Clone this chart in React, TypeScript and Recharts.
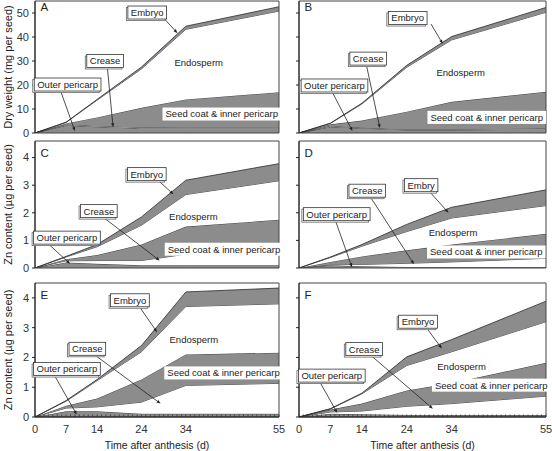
import React from 'react';
import { AreaChart, Area, XAxis, YAxis, ReferenceLine, ReferenceDot, ReferenceArea } from 'recharts';

// ---------- data ----------
const days = [0, 7, 14, 24, 34, 55];
const xTickLabels = [0, 7, 14, 24, 34, 55];
const xMinorTicks = [0, 1, 2, 3, 4, 5, 6, 7, 8, 9, 10, 11, 12, 13, 14, 15, 16, 17, 18, 19, 20, 21, 22, 23, 24, 25, 26, 27, 28, 29, 30, 31, 32, 33, 34, 35, 36, 37, 38, 39, 40, 41, 42, 43, 44, 45, 46, 47, 48, 49, 50, 51, 52, 53, 54, 55];
const dwTicks = [0, 10, 20, 30, 40, 50];
const znTicks = [0, 1, 2, 3, 4];

// upper boundary of each stacked tissue (cumulative), per day
// Panel A - dry weight
const aOuterTop = [0, 3.2, 2.6, 2.0, 2.0, 2.0];
const aCreaseTop = [0, 3.5, 2.9, 2.3, 2.4, 2.4];
const aSeedTop = [0, 4.0, 6.5, 10.5, 14, 17];
const aEndoTop = [0, 4.4, 13.7, 26.7, 43.2, 50.8];
const aEmbryoTop = [0, 4.5, 14, 27.5, 44.5, 52.6];
// Panel B - dry weight
const bOuterTop = [0, 2.6, 2.0, 1.3, 1.3, 1.6];
const bCreaseTop = [0, 2.9, 2.2, 1.5, 1.5, 1.9];
const bSeedTop = [0, 3.6, 5.2, 8.9, 13, 17.2];
const bEndoTop = [0, 4.0, 12.1, 27.4, 38.8, 50.3];
const bEmbryoTop = [0, 4.1, 12.4, 28.2, 40.2, 52.3];
// Panel C - Zn
const cOuterTop = [0, 0.2, 0.15, 0.1, 0.1, 0.1];
const cCreaseTop = [0, 0.26, 0.27, 0.27, 0.5, 0.6];
const cSeedTop = [0, 0.32, 0.47, 0.85, 1.5, 1.75];
const cEndoTop = [0, 0.4, 0.77, 1.55, 2.66, 3.16];
const cEmbryoTop = [0, 0.42, 0.85, 1.85, 3.18, 3.78];
// Panel D - Zn
const dOuterTop = [0, 0.1, 0.06, 0.04, 0.04, 0.04];
const dCreaseTop = [0, 0.12, 0.13, 0.17, 0.22, 0.35];
const dSeedTop = [0, 0.22, 0.42, 0.64, 0.85, 1.24];
const dEndoTop = [0, 0.38, 0.79, 1.32, 1.81, 2.26];
const dEmbryoTop = [0, 0.4, 0.85, 1.58, 2.2, 2.83];
// Panel E - Zn
const eOuterTop = [0, 0.19, 0.19, 0.11, 0.11, 0.11];
const eCreaseTop = [0, 0.3, 0.34, 0.5, 1.06, 1.13];
const eSeedTop = [0, 0.38, 0.62, 1.26, 2.1, 2.16];
const eEndoTop = [0, 0.53, 1.22, 2.19, 3.71, 3.8];
const eEmbryoTop = [0, 0.55, 1.26, 2.4, 4.2, 4.33];
// Panel F - Zn
const fOuterTop = [0, 0.11, 0.09, 0.07, 0.07, 0.07];
const fCreaseTop = [0, 0.17, 0.2, 0.36, 0.45, 0.7];
const fSeedTop = [0, 0.25, 0.45, 0.89, 1.14, 1.82];
const fEndoTop = [0, 0.27, 0.78, 1.73, 2.19, 3.2];
const fEmbryoTop = [0, 0.28, 0.8, 2.02, 2.6, 3.89];

const layerKeys = ['outer', 'crease', 'seed', 'endo', 'embryo'];
const GRAY = '#8c8c8c';
const layerFills = [GRAY, '#ffffff', GRAY, '#ffffff', GRAY];

function buildRows(tops: number[][]) {
  return days.map((d, i) => {
    const row: any = { day: d };
    layerKeys.forEach((k, j) => {
      row[k] = tops[j][i] - (j === 0 ? 0 : tops[j - 1][i]);
    });
    return row;
  });
}

type Note = { kind: 'box' | 'plain' | 'white'; text: string; d: number; v: number; line?: number[] };

const SEED = 'Seed coat & inner pericarp';

const notesA: Note[] = [
  { kind: 'box', text: 'Embryo', d: 25.3, v: 50.2, line: [29, 47.9, 32.1, 41.6] },
  { kind: 'box', text: 'Crease', d: 15.8, v: 30, line: [16.3, 27.5, 17.6, 2.4] },
  { kind: 'box', text: 'Outer pericarp', d: 7.35, v: 20.2, line: [5.7, 17.9, 9, 0.8] },
  { kind: 'plain', text: 'Endosperm', d: 36.9, v: 29.2 },
  { kind: 'white', text: SEED, d: 42.1, v: 7.9 },
];
const notesB: Note[] = [
  { kind: 'box', text: 'Embryo', d: 24.2, v: 47.9, line: [29.4, 45.4, 32, 37.2] },
  { kind: 'box', text: 'Crease', d: 15.4, v: 31, line: [15.1, 27.5, 18, 2.1] },
  { kind: 'box', text: 'Outer pericarp', d: 7.9, v: 19.8, line: [7.4, 17.1, 11.9, 0.8] },
  { kind: 'plain', text: 'Endosperm', d: 36, v: 25 },
  { kind: 'white', text: SEED, d: 41.8, v: 6.5 },
];
const notesC: Note[] = [
  { kind: 'box', text: 'Embryo', d: 25.2, v: 3.4, line: [27.6, 3.2, 31.2, 2.67] },
  { kind: 'box', text: 'Crease', d: 14.4, v: 2.06, line: [15.2, 1.86, 28.1, 0.27] },
  { kind: 'box', text: 'Outer pericarp', d: 7.2, v: 1.1, line: [2.7, 0.92, 7.9, 0.15] },
  { kind: 'plain', text: 'Endosperm', d: 35.7, v: 1.86 },
  { kind: 'white', text: SEED, d: 42.6, v: 0.68 },
];
const notesD: Note[] = [
  { kind: 'box', text: 'Embry', d: 27.2, v: 3.0, line: [29, 2.78, 33.3, 2.0] },
  { kind: 'box', text: 'Crease', d: 15.2, v: 2.8, line: [15.9, 2.57, 25.6, 0.14] },
  { kind: 'box', text: 'Outer pericarp', d: 8.4, v: 1.95, line: [8.1, 1.72, 11.8, 0.03] },
  { kind: 'plain', text: 'Endosperm', d: 34.3, v: 1.29 },
  { kind: 'white', text: SEED, d: 41.7, v: 0.58 },
];
const notesE: Note[] = [
  { kind: 'box', text: 'Embryo', d: 21.4, v: 3.92, line: [23.8, 3.65, 27.5, 2.85] },
  { kind: 'box', text: 'Crease', d: 11.8, v: 2.29, line: [13.6, 2.07, 28.3, 0.45] },
  { kind: 'box', text: 'Outer pericarp', d: 7.2, v: 1.61, line: [4.5, 1.37, 9.4, 0.08] },
  { kind: 'plain', text: 'Endosperm', d: 35.8, v: 2.61 },
  { kind: 'white', text: SEED, d: 42.5, v: 1.48 },
];
const notesF: Note[] = [
  { kind: 'box', text: 'Embryo', d: 26.5, v: 3.2, line: [28.7, 2.93, 31.8, 2.3] },
  { kind: 'box', text: 'Crease', d: 14.5, v: 2.28, line: [16, 2.07, 29.8, 0.28] },
  { kind: 'box', text: 'Outer pericarp', d: 7.3, v: 1.39, line: [4.7, 1.16, 8.5, 0.14] },
  { kind: 'plain', text: 'Endosperm', d: 36.2, v: 1.68 },
  { kind: 'white', text: SEED, d: 42.8, v: 1.07 },
];

// ---------- styling ----------
const FONT = '"Liberation Sans", Arial, Helvetica, sans-serif';
const NOTE_FONT = 9.5;
const INK = '#222';

const widthCache: Record<string, number> = {};
function textWidth(t: string, size: number) {
  const key = t + '|' + size;
  if (widthCache[key] == null) {
    let w = t.length * size * 0.5;
    try {
      const ctx = document.createElement('canvas').getContext('2d');
      if (ctx) {
        ctx.font = `${size}px ${FONT}`;
        w = ctx.measureText(t).width;
      }
    } catch (e) {
      /* ignore */
    }
    widthCache[key] = w;
  }
  return widthCache[key];
}

function NoteShape(props: any) {
  const { cx, cy, note } = props;
  if (cx == null || cy == null) return <g />;
  const tw = textWidth(note.text, NOTE_FONT);
  const label = (
    <text x={cx} y={cy} dy={3.4} textAnchor="middle" fontSize={NOTE_FONT} fill={INK} fontFamily={FONT}>
      {note.text}
    </text>
  );
  if (note.kind === 'plain') return <g>{label}</g>;
  const w = tw + 6;
  const h = 13;
  const x = cx - w / 2;
  const y = cy - h / 2;
  if (note.kind === 'white') {
    return (
      <g>
        <rect x={x} y={y} width={w} height={h} fill="#fff" />
        {label}
      </g>
    );
  }
  return (
    <g>
      <rect x={x - 1.5} y={y + 1.5} width={w} height={h} fill="#fff" stroke="#666" strokeWidth={0.8} />
      <rect x={x} y={y} width={w} height={h} fill="#fff" stroke="#333" strokeWidth={0.8} />
      {label}
    </g>
  );
}

function Leader(props: any) {
  const { x1, y1, x2, y2 } = props;
  if ([x1, y1, x2, y2].some((n) => n == null || isNaN(n))) return <g />;
  const a = Math.atan2(y2 - y1, x2 - x1);
  const L = 4;
  const W = 1.6;
  const bx = x2 - L * Math.cos(a);
  const by = y2 - L * Math.sin(a);
  const px = -Math.sin(a) * W;
  const py = Math.cos(a) * W;
  return (
    <g>
      <line x1={x1} y1={y1} x2={bx} y2={by} stroke={INK} strokeWidth={0.8} />
      <polygon points={`${x2},${y2} ${bx + px},${by + py} ${bx - px},${by - py}`} fill={INK} />
    </g>
  );
}

function LetterShape(props: any) {
  const { cx, cy, letter, dy } = props;
  if (cx == null || cy == null) return <g />;
  return (
    <text x={cx + 5.5} y={cy + dy} fontSize={11.5} fill={INK} fontFamily={FONT}>
      {letter}
    </text>
  );
}

function XTick(props: any) {
  const { x, y, payload, showLabels } = props;
  const v = payload ? payload.value : 0;
  return (
    <g>
      <line x1={x} x2={x} y1={y} y2={y - 2.5} stroke="#333" strokeWidth={0.8} />
      {showLabels && xTickLabels.includes(v) ? (
        <text x={x} y={y + 16} textAnchor="middle" fontSize={11} fill="#333" fontFamily={FONT}>
          {v}
        </text>
      ) : null}
    </g>
  );
}

const COLS = [
  { left: 0, width: 290, yWidth: 35, mr: 11, yLabels: true },
  { left: 282, width: 270, yWidth: 17, mr: 6, yLabels: false },
];
const ROWS = [
  { top: 0, height: 141, mt: 1, mb: 8, xh: 0, letterDy: 9.5 },
  { top: 136, height: 140, mt: 5, mb: 8, xh: 0, letterDy: 16 },
  { top: 278, height: 173, mt: 5, mb: 0, xh: 34, letterDy: 16 },
];

type PanelSpec = {
  letter: string;
  tops: number[][];
  notes: Note[];
  row: number;
  col: number;
  yMax: number;
  yTicks: number[];
  yTitle?: string;
};

const panels: PanelSpec[] = [
  { letter: 'A', tops: [aOuterTop, aCreaseTop, aSeedTop, aEndoTop, aEmbryoTop], notes: notesA, row: 0, col: 0, yMax: 55, yTicks: dwTicks, yTitle: 'Dry weight (mg per seed)' },
  { letter: 'B', tops: [bOuterTop, bCreaseTop, bSeedTop, bEndoTop, bEmbryoTop], notes: notesB, row: 0, col: 1, yMax: 55, yTicks: dwTicks },
  { letter: 'C', tops: [cOuterTop, cCreaseTop, cSeedTop, cEndoTop, cEmbryoTop], notes: notesC, row: 1, col: 0, yMax: 4.6, yTicks: znTicks, yTitle: 'Zn content (\u00b5g per seed)' },
  { letter: 'D', tops: [dOuterTop, dCreaseTop, dSeedTop, dEndoTop, dEmbryoTop], notes: notesD, row: 1, col: 1, yMax: 4.6, yTicks: znTicks },
  { letter: 'E', tops: [eOuterTop, eCreaseTop, eSeedTop, eEndoTop, eEmbryoTop], notes: notesE, row: 2, col: 0, yMax: 4.5, yTicks: znTicks, yTitle: 'Zn content (\u00b5g per seed)' },
  { letter: 'F', tops: [fOuterTop, fCreaseTop, fSeedTop, fEndoTop, fEmbryoTop], notes: notesF, row: 2, col: 1, yMax: 4.5, yTicks: znTicks },
];

function Panel({ spec }: { spec: PanelSpec }) {
  const c = COLS[spec.col];
  const r = ROWS[spec.row];
  const rows = buildRows(spec.tops);
  const showX = spec.row === 2;
  return (
    <div style={{ position: 'absolute', left: c.left, top: r.top }}>
      <AreaChart
        width={c.width}
        height={r.height}
        data={rows}
        margin={{ top: r.mt, right: c.mr, bottom: r.mb, left: 0 }}
      >
        <XAxis
          dataKey="day"
          type="number"
          domain={[0, 55]}
          ticks={xMinorTicks}
          interval={0}
          height={r.xh}
          tickSize={0}
          tickMargin={0}
          tickLine={false}
          axisLine={{ stroke: '#222', strokeWidth: 1 }}
          tick={(p: any) => <XTick {...p} showLabels={showX} />}
          label={
            showX
              ? { value: 'Time after anthesis (d)', position: 'insideBottom', offset: 2, fontSize: 10.5, fill: INK, fontFamily: FONT }
              : undefined
          }
        />
        <YAxis
          type="number"
          domain={[0, spec.yMax]}
          allowDataOverflow
          ticks={spec.yTicks}
          interval={0}
          width={c.yWidth}
          tickSize={3}
          tickMargin={3}
          tickLine={{ stroke: '#222' }}
          axisLine={{ stroke: '#222', strokeWidth: 1 }}
          tick={c.yLabels ? { fontSize: 11, fill: '#333', fontFamily: FONT } : () => <g />}
          label={
            spec.yTitle
              ? { value: spec.yTitle, angle: -90, position: 'insideLeft', offset: 8.5, style: { textAnchor: 'middle' }, fontSize: 11, fill: INK, fontFamily: FONT }
              : undefined
          }
        />
        {layerKeys.map((k, j) => (
          <Area
            key={k}
            dataKey={k}
            stackId="1"
            type="linear"
            fill={layerFills[j]}
            fillOpacity={1}
            stroke="#2a2a2a"
            strokeWidth={0.8}
            dot={false}
            activeDot={false}
            isAnimationActive={false}
          />
        ))}
        <ReferenceArea x1={0} x2={55} y1={0} y2={spec.yMax} fill="none" stroke="#444" strokeWidth={1} ifOverflow="visible" />
        {spec.notes
          .filter((n) => n.line)
          .map((n, i) => (
            <ReferenceLine
              key={'l' + i}
              segment={[
                { x: n.line![0], y: n.line![1] },
                { x: n.line![2], y: n.line![3] },
              ]}
              ifOverflow="visible"
              shape={(p: any) => <Leader {...p} />}
            />
          ))}
        {spec.notes.map((n, i) => (
          <ReferenceDot
            key={'n' + i}
            x={n.d}
            y={n.v}
            r={0}
            ifOverflow="visible"
            shape={(p: any) => <NoteShape {...p} note={n} />}
          />
        ))}
        <ReferenceDot
          x={0}
          y={spec.yMax}
          r={0}
          ifOverflow="visible"
          shape={(p: any) => <LetterShape {...p} letter={spec.letter} dy={r.letterDy} />}
        />
      </AreaChart>
    </div>
  );
}

export default function App() {
  return (
    <div
      style={{
        position: 'absolute',
        left: 0,
        top: 0,
        width: 552,
        height: 451,
        background: '#fff',
        fontFamily: FONT,
        overflow: 'hidden',
      }}
    >
      {panels.map((p) => (
        <Panel key={p.letter} spec={p} />
      ))}
    </div>
  );
}
